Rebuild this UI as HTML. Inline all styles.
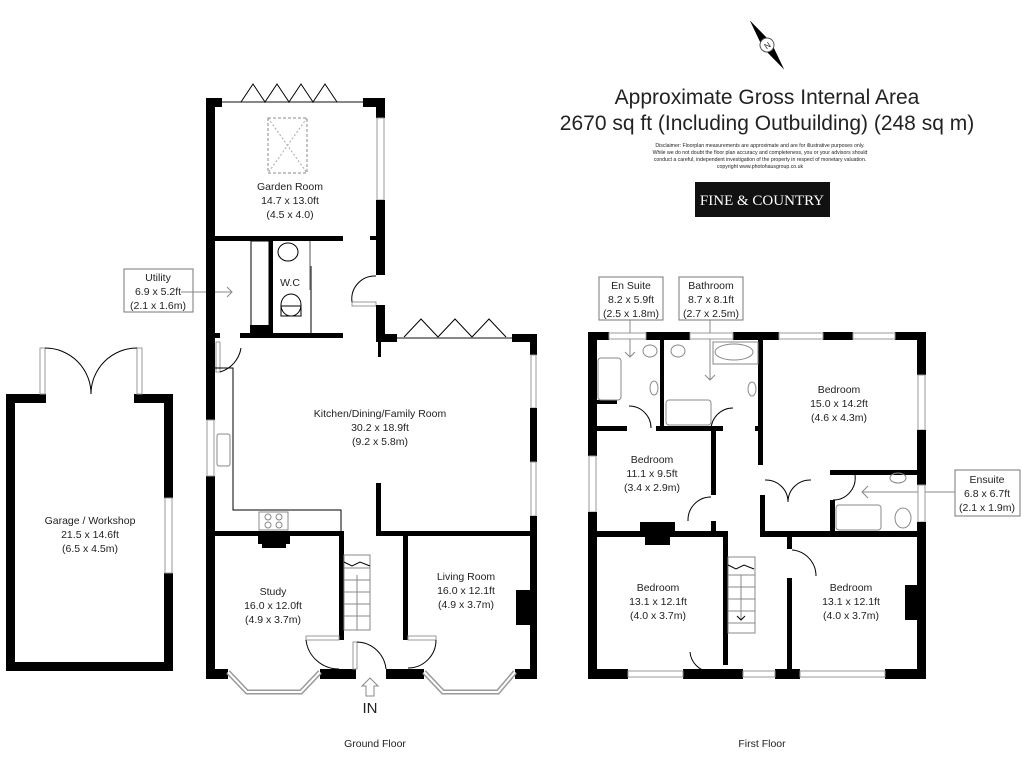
<!DOCTYPE html>
<html><head><meta charset="utf-8"><style>
html,body{margin:0;padding:0;background:#fff}
svg{display:block}
text{font-family:"Liberation Sans",sans-serif;fill:#222}
.l{font-size:10.5px;text-anchor:middle}
.w{fill:#000}
.win{fill:#fff;stroke:#999;stroke-width:1}
.t{fill:none;stroke:#000;stroke-width:1}
.g{fill:none;stroke:#888;stroke-width:1}
</style></head><body>
<svg width="1024" height="768" viewBox="0 0 1024 768" xmlns="http://www.w3.org/2000/svg">
<!-- header -->
<g transform="translate(767,45) rotate(-35)">
<polygon points="0,-30 5,0 0,30 -5,0" fill="#000"/>
<circle r="7" fill="#fff" stroke="#555"/>
<text x="0" y="3.5" font-size="8" text-anchor="middle" transform="rotate(0)">N</text>
</g>
<text x="767" y="104" font-size="21" text-anchor="middle">Approximate Gross Internal Area</text>
<text x="767" y="130" font-size="21" text-anchor="middle">2670 sq ft (Including Outbuilding) (248 sq m)</text>
<g font-size="5.2" text-anchor="middle">
<text x="760" y="147">Disclaimer: Floorplan measurements are approximate and are for illustrative purposes only.</text>
<text x="760" y="154">While we do not doubt the floor plan accuracy and completeness, you or your advisors should</text>
<text x="760" y="161">conduct a careful, independent investigation of the property in respect of monetary valuation.</text>
<text x="760" y="168">copyright www.photohausgroup.co.uk</text>
</g>
<rect x="695" y="182" width="135" height="35" fill="#111"/>
<text x="762" y="205" font-size="15" text-anchor="middle" font-family="Liberation Serif" style="fill:#fff;font-family:'Liberation Serif',serif">FINE &amp; COUNTRY</text>

<!-- GARAGE -->
<rect class="w" x="6" y="394" width="9" height="277"/>
<rect class="w" x="6" y="662" width="167" height="9"/>
<rect class="w" x="6" y="394" width="40" height="9"/>
<rect class="w" x="134" y="394" width="39" height="9"/>
<rect class="w" x="164" y="394" width="9" height="104"/>
<rect class="w" x="164" y="573" width="9" height="98"/>
<rect class="win" x="165" y="498" width="7" height="75"/>
<rect class="win" x="40" y="348" width="5" height="46"/>
<rect class="win" x="137" y="348" width="5" height="46"/>
<path class="t" d="M45,348 A46,46 0 0 1 91,394 M137,348 A46,46 0 0 0 91,394"/>
<text class="l" x="90" y="524">Garage / Workshop</text>
<text class="l" x="90" y="538">21.5 x 14.6ft</text>
<text class="l" x="90" y="552">(6.5 x 4.5m)</text>

<!-- Utility label -->
<rect x="124" y="269" width="69" height="43" fill="#fff" stroke="#777"/>
<text class="l" x="158" y="281">Utility</text>
<text class="l" x="158" y="295">6.9 x 5.2ft</text>
<text class="l" x="158" y="309">(2.1 x 1.6m)</text>
<path class="g" d="M181,292 H232 M227,287 l5,5 -5,5"/>

<!-- GROUND FLOOR -->
<rect class="w" x="206" y="98" width="9" height="322"/>
<rect class="w" x="206" y="476" width="9" height="203"/>
<rect class="win" x="207" y="420" width="7" height="56"/>
<rect class="w" x="206" y="98" width="16" height="9"/>
<rect class="w" x="363" y="98" width="22" height="9"/>
<rect class="w" x="376" y="98" width="9" height="20"/>
<rect class="win" x="377" y="118" width="7" height="82"/>
<rect class="w" x="376" y="200" width="9" height="75"/>
<rect class="w" x="370" y="236" width="8" height="4"/>
<rect class="win" x="352" y="302" width="24" height="4"/>
<path class="t" d="M352,302 A23,23 0 0 1 376,276"/>
<rect class="w" x="376" y="305" width="9" height="37"/>
<rect class="w" x="378" y="340" width="3" height="17"/>
<line x1="222" y1="102" x2="363" y2="102" stroke="#888" stroke-width="2"/>
<path class="t" d="M241,102 l12,-18 12,18 12,-18 12,18 12,-18 12,18 12,-18 12,18"/>
<rect x="268" y="118" width="39" height="55" fill="none" stroke="#888" stroke-dasharray="3,2"/>
<path d="M268,118 L307,173 M307,118 L268,173" stroke="#aaa" stroke-dasharray="2,2"/>
<text class="l" x="290" y="190">Garden Room</text>
<text class="l" x="290" y="204">14.7 x 13.0ft</text>
<text class="l" x="290" y="218">(4.5 x 4.0)</text>
<rect class="w" x="215" y="236" width="128" height="5"/>
<rect class="t" x="251" y="241" width="18" height="85"/>
<rect class="w" x="269" y="241" width="4" height="95"/>
<rect class="w" x="250" y="325" width="20" height="13"/>
<rect class="w" x="240" y="333" width="103" height="5"/>
<rect class="w" x="215" y="333" width="5" height="5"/>
<line x1="310" y1="241" x2="310" y2="290" stroke="#aaa" stroke-width="2"/>
<line x1="311" y1="266" x2="311" y2="333" stroke="#000"/>
<ellipse cx="288" cy="252" rx="10" ry="9" class="t"/>
<rect x="281" y="306" width="20" height="10" class="t"/>
<ellipse cx="291" cy="305" rx="10" ry="11" class="t" fill="#fff"/>
<text class="l" x="290" y="286">W.C</text>
<rect class="win" x="216" y="342" width="4" height="30"/>
<path class="t" d="M220,372 A30,30 0 0 0 241,348"/>
<rect class="w" x="376" y="334" width="21" height="8"/>
<rect class="w" x="512" y="334" width="25" height="8"/>
<line x1="397" y1="338" x2="512" y2="338" stroke="#888" stroke-width="2"/>
<path class="t" d="M404,337 l17,-18 17,18 17,-18 17,18 17,-18 17,18"/>
<rect class="w" x="530" y="334" width="7" height="21"/>
<rect class="win" x="531" y="355" width="5" height="53"/>
<rect class="w" x="530" y="408" width="7" height="54"/>
<rect class="win" x="531" y="462" width="5" height="54"/>
<rect class="w" x="530" y="516" width="7" height="163"/>
<path class="t" d="M215,368 H233 V510 H341 V532"/>
<rect x="217" y="434" width="13" height="32" rx="2" class="g"/>
<rect x="259" y="512" width="29" height="18" class="g"/>
<g class="g"><circle cx="268" cy="517" r="3"/><circle cx="279" cy="517" r="3"/><circle cx="268" cy="525" r="3"/><circle cx="279" cy="525" r="3"/></g>
<text class="l" x="380" y="417">Kitchen/Dining/Family  Room</text>
<text class="l" x="380" y="431">30.2 x 18.9ft</text>
<text class="l" x="380" y="445">(9.2 x 5.8m)</text>
<rect class="w" x="215" y="531" width="128" height="5"/>
<rect class="w" x="339" y="531" width="5" height="109"/>
<rect class="w" x="376" y="483" width="5" height="53"/>
<rect class="w" x="376" y="531" width="161" height="5"/>
<rect class="w" x="403" y="535" width="5" height="105"/>
<rect class="w" x="258" y="536" width="32" height="8"/><rect class="w" x="262" y="544" width="24" height="4"/>
<rect class="w" x="516" y="590" width="14" height="35"/>
<rect x="344" y="555" width="26" height="75" class="g"/>
<g stroke="#888"><line x1="344" y1="568" x2="370" y2="568"/><line x1="344" y1="580" x2="370" y2="580"/><line x1="344" y1="592" x2="370" y2="592"/><line x1="344" y1="604" x2="370" y2="604"/><line x1="344" y1="616" x2="370" y2="616"/><line x1="357" y1="575" x2="357" y2="630"/></g>
<path class="t" d="M344,562 l8,4 8,-4 10,4"/>
<text class="l" x="273" y="595">Study</text>
<text class="l" x="273" y="609">16.0 x 12.0ft</text>
<text class="l" x="273" y="623">(4.9 x 3.7m)</text>
<text class="l" x="466" y="580">Living Room</text>
<text class="l" x="466" y="594">16.0 x 12.1ft</text>
<text class="l" x="466" y="608">(4.9 x 3.7m)</text>
<rect class="w" x="206" y="669" width="22" height="10"/>
<rect class="w" x="320" y="669" width="36" height="10"/>
<rect class="w" x="386" y="669" width="38" height="10"/>
<rect class="w" x="515" y="669" width="22" height="10"/>
<path d="M228,672 L247,692 H301 L320,672 M424,672 L443,692 H498 L515,672" fill="none" stroke="#999" stroke-width="5"/>
<path d="M228,672 L247,692 H301 L320,672 M424,672 L443,692 H498 L515,672" fill="none" stroke="#fff" stroke-width="2"/>
<rect class="win" x="306" y="636" width="33" height="4"/>
<path class="t" d="M306,640 A33,33 0 0 0 339,669"/>
<rect class="win" x="408" y="636" width="28" height="4"/>
<path class="t" d="M436,640 A28,28 0 0 1 408,668"/>
<rect class="win" x="353" y="642" width="4" height="27"/>
<path class="t" d="M357,642 A30,30 0 0 1 386,669"/>
<path d="M370,678 l-8,8 h4 v10 h8 v-10 h4 z" fill="#fff" stroke="#888"/>
<text x="370" y="713" font-size="15" text-anchor="middle">IN</text>
<text class="l" x="375" y="747">Ground Floor</text>

<!-- FIRST FLOOR labels -->
<rect x="599" y="277" width="64" height="43" fill="#fff" stroke="#777"/>
<text class="l" x="631" y="289">En Suite</text><text class="l" x="631" y="303">8.2 x 5.9ft</text><text class="l" x="631" y="317">(2.5 x 1.8m)</text>
<rect x="679" y="277" width="64" height="43" fill="#fff" stroke="#777"/>
<text class="l" x="711" y="289">Bathroom</text><text class="l" x="711" y="303">8.7 x 8.1ft</text><text class="l" x="711" y="317">(2.7 x 2.5m)</text>
<path class="g" d="M630,320 V357 M625,352 l5,5 5,-5 M710,320 V380 M705,375 l5,5 5,-5"/>
<rect x="955" y="470" width="65" height="46" fill="#fff" stroke="#777"/>
<text class="l" x="987" y="483">Ensuite</text><text class="l" x="987" y="497">6.8 x 6.7ft</text><text class="l" x="987" y="511">(2.1 x 1.9m)</text>
<path class="g" d="M955,492 H862 M868,486 l-6,6 6,6"/>

<!-- FIRST FLOOR walls -->
<rect class="w" x="588" y="332" width="21" height="8"/>
<rect class="w" x="646" y="332" width="44" height="8"/>
<rect class="w" x="733" y="332" width="46" height="8"/>
<rect class="w" x="823" y="332" width="30" height="8"/>
<rect class="w" x="895" y="332" width="31" height="8"/>
<rect class="win" x="609" y="333" width="37" height="6"/><rect class="win" x="690" y="333" width="43" height="6"/><rect class="win" x="779" y="333" width="44" height="6"/><rect class="win" x="853" y="333" width="42" height="6"/>
<rect class="w" x="588" y="332" width="9" height="124"/>
<rect class="win" x="589" y="456" width="7" height="56"/>
<rect class="w" x="588" y="512" width="9" height="166"/>
<rect class="w" x="917" y="332" width="9" height="43"/>
<rect class="win" x="918" y="375" width="7" height="55"/>
<rect class="w" x="917" y="430" width="9" height="55"/>
<rect class="win" x="918" y="485" width="7" height="37"/>
<rect class="w" x="917" y="522" width="9" height="156"/>
<rect class="w" x="588" y="669" width="40" height="10"/>
<rect class="w" x="683" y="669" width="60" height="10"/>
<rect class="w" x="775" y="669" width="25" height="10"/>
<rect class="w" x="885" y="669" width="41" height="10"/>
<rect class="win" x="628" y="671" width="55" height="6"/><rect class="win" x="743" y="671" width="32" height="6"/><rect class="win" x="800" y="671" width="85" height="6"/>
<!-- interior -->
<rect class="w" x="660" y="340" width="4" height="90"/>
<rect class="w" x="597" y="400" width="20" height="4"/>
<rect class="w" x="597" y="426" width="30" height="5"/>
<rect class="w" x="656" y="426" width="67" height="5"/>
<rect class="w" x="755" y="426" width="8" height="5"/>
<rect class="w" x="758" y="340" width="5" height="125"/>
<rect class="w" x="711" y="431" width="5" height="64"/>
<rect class="w" x="711" y="521" width="5" height="16"/>
<rect class="w" x="597" y="531" width="131" height="6"/>
<rect class="w" x="723" y="531" width="5" height="134"/>
<rect class="w" x="830" y="470" width="96" height="5"/>
<rect class="w" x="760" y="495" width="5" height="42"/>
<rect class="w" x="830" y="500" width="5" height="37"/>
<rect class="w" x="760" y="531" width="166" height="6"/>
<rect class="w" x="787" y="537" width="5" height="12"/>
<rect class="w" x="787" y="578" width="5" height="91"/>
<rect class="w" x="640" y="522" width="35" height="14"/><rect class="w" x="645" y="536" width="25" height="9"/>
<rect class="w" x="905" y="585" width="12" height="35"/>
<!-- fixtures -->
<rect x="598" y="358" width="23" height="42" rx="3" class="g"/>
<rect x="713" y="342" width="45" height="22" class="g"/><ellipse cx="734" cy="352" rx="19" ry="8" class="g"/>
<rect x="666" y="400" width="45" height="25" rx="3" class="g"/>
<ellipse cx="650" cy="351" rx="7" ry="6" class="g"/><ellipse cx="678" cy="351" rx="7" ry="6" class="g"/>
<ellipse cx="654" cy="388" rx="4" ry="7" class="g"/><ellipse cx="752" cy="389" rx="4" ry="7" class="g"/>
<rect x="836" y="505" width="45" height="25" rx="3" class="g"/>
<ellipse cx="898" cy="478" rx="8" ry="5" class="g"/><ellipse cx="903" cy="518" rx="8" ry="10" class="g"/>
<path class="t" d="M629,406 A22,22 0 0 1 651,428 M733,408 A22,22 0 0 0 711,430 M688,521 A23,23 0 0 1 711,497 M765,480 A22,22 0 0 1 788,502 A22,22 0 0 1 811,480 M833,500 A22,22 0 0 0 855,475 M792,550 A26,26 0 0 1 816,576 M690,652 A22,22 0 0 0 710,672"/>
<rect x="728" y="557" width="27" height="76" class="g"/>
<g stroke="#888"><line x1="728" y1="575" x2="755" y2="575"/><line x1="728" y1="587" x2="755" y2="587"/><line x1="728" y1="599" x2="755" y2="599"/><line x1="728" y1="611" x2="755" y2="611"/><line x1="728" y1="623" x2="755" y2="623"/><line x1="741" y1="575" x2="741" y2="620"/></g>
<path class="t" d="M728,565 l8,4 8,-4 10,4 M737,616 l4,4 4,-4"/>
<text class="l" x="839" y="393">Bedroom</text><text class="l" x="839" y="407">15.0 x 14.2ft</text><text class="l" x="839" y="421">(4.6 x 4.3m)</text>
<text class="l" x="652" y="463">Bedroom</text><text class="l" x="652" y="477">11.1 x 9.5ft</text><text class="l" x="652" y="491">(3.4 x 2.9m)</text>
<text class="l" x="658" y="591">Bedroom</text><text class="l" x="658" y="605">13.1 x 12.1ft</text><text class="l" x="658" y="619">(4.0 x 3.7m)</text>
<text class="l" x="851" y="591">Bedroom</text><text class="l" x="851" y="605">13.1 x 12.1ft</text><text class="l" x="851" y="619">(4.0 x 3.7m)</text>
<text class="l" x="762" y="747">First Floor</text>
</svg>
</body></html>
